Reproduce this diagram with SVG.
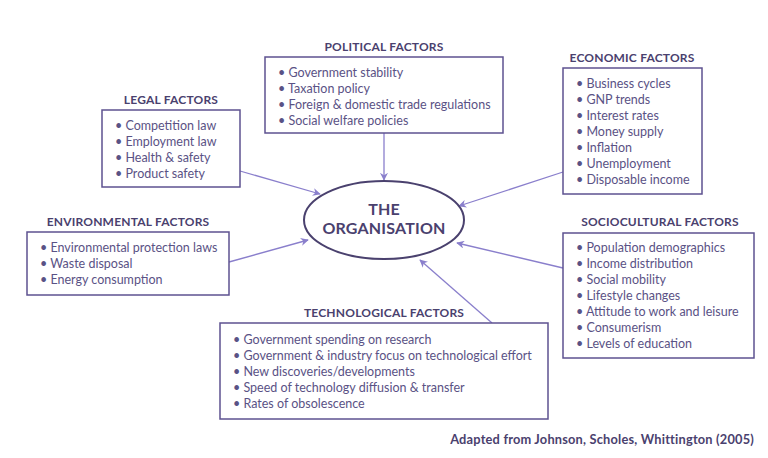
<svg xmlns="http://www.w3.org/2000/svg" width="768" height="458" viewBox="0 0 768 458">
<defs>
<marker id="ah" viewBox="0 0 10 10" refX="9" refY="5" markerWidth="8" markerHeight="8" orient="auto" markerUnits="userSpaceOnUse">
<path d="M0,0 L10,5 L0,10 L3,5 Z" fill="#8a7fcc"/>
</marker>
<style>
.box{fill:#fff;stroke:#5d5290;stroke-width:1.5}
.t{font-family:Lato,"Open Sans",sans-serif;font-weight:bold;font-size:12px;fill:#4a416e;text-anchor:middle;letter-spacing:0.2px}
.i{font-family:Lato,"Open Sans",sans-serif;font-size:12.5px;fill:#5a5285}
.c{stroke:#8a7fcc;stroke-width:1.3;fill:none;marker-end:url(#ah)}
</style>
</defs>
<rect width="768" height="458" fill="#fff"/>
<g id="connectors">
<line class="c" x1="384" y1="133" x2="384" y2="180"/>
<line class="c" x1="240" y1="171" x2="320" y2="194"/>
<line class="c" x1="563" y1="172" x2="459" y2="206"/>
<line class="c" x1="229" y1="262" x2="308" y2="240"/>
<line class="c" x1="563" y1="268" x2="457" y2="243"/>
<line class="c" x1="492" y1="323" x2="420" y2="260"/>
</g>
<g id="organisation">
<ellipse cx="384" cy="220" rx="80" ry="39" fill="#fff" stroke="#4a416e" stroke-width="2"/>
<text class="t" x="384" y="215" style="font-size:16px">THE</text>
<text class="t" x="384" y="234" style="font-size:16px">ORGANISATION</text>
</g>
<g id="political">
<text class="t" x="384" y="51">POLITICAL FACTORS</text>
<rect class="box" x="265" y="57" width="238" height="76"/>
<text class="i" x="278" y="77">• Government stability</text>
<text class="i" x="278" y="93">• Taxation policy</text>
<text class="i" x="278" y="109">• Foreign &amp; domestic trade regulations</text>
<text class="i" x="278" y="125">• Social welfare policies</text>
</g>
<g id="legal">
<text class="t" x="171" y="104">LEGAL FACTORS</text>
<rect class="box" x="102" y="110" width="138" height="77"/>
<text class="i" x="115" y="130">• Competition law</text>
<text class="i" x="115" y="146">• Employment law</text>
<text class="i" x="115" y="162">• Health &amp; safety</text>
<text class="i" x="115" y="178">• Product safety</text>
</g>
<g id="economic">
<text class="t" x="632" y="62">ECONOMIC FACTORS</text>
<rect class="box" x="563" y="68" width="139" height="126"/>
<text class="i" x="576" y="88">• Business cycles</text>
<text class="i" x="576" y="104">• GNP trends</text>
<text class="i" x="576" y="120">• Interest rates</text>
<text class="i" x="576" y="136">• Money supply</text>
<text class="i" x="576" y="152">• Inflation</text>
<text class="i" x="576" y="168">• Unemployment</text>
<text class="i" x="576" y="184">• Disposable income</text>
</g>
<g id="environmental">
<text class="t" x="128" y="226">ENVIRONMENTAL FACTORS</text>
<rect class="box" x="27" y="232" width="202" height="63"/>
<text class="i" x="40" y="252">• Environmental protection laws</text>
<text class="i" x="40" y="268">• Waste disposal</text>
<text class="i" x="40" y="284">• Energy consumption</text>
</g>
<g id="sociocultural">
<text class="t" x="660" y="226">SOCIOCULTURAL FACTORS</text>
<rect class="box" x="563" y="233" width="191" height="125"/>
<text class="i" x="576" y="252">• Population demographics</text>
<text class="i" x="576" y="268">• Income distribution</text>
<text class="i" x="576" y="284">• Social mobility</text>
<text class="i" x="576" y="300">• Lifestyle changes</text>
<text class="i" x="576" y="316">• Attitude to work and leisure</text>
<text class="i" x="576" y="332">• Consumerism</text>
<text class="i" x="576" y="348">• Levels of education</text>
</g>
<g id="technological">
<text class="t" x="384" y="317">TECHNOLOGICAL FACTORS</text>
<rect class="box" x="220" y="323" width="328" height="96"/>
<text class="i" x="233" y="344">• Government spending on research</text>
<text class="i" x="233" y="360">• Government &amp; industry focus on technological effort</text>
<text class="i" x="233" y="376">• New discoveries/developments</text>
<text class="i" x="233" y="392">• Speed of technology diffusion &amp; transfer</text>
<text class="i" x="233" y="408">• Rates of obsolescence</text>
</g>
<g id="source">
<text class="t" x="754" y="444" style="text-anchor:end;font-size:12.8px">Adapted from Johnson, Scholes, Whittington (2005)</text>
</g>
</svg>
